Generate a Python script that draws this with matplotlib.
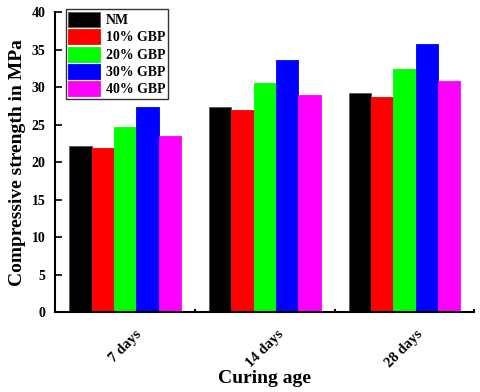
import numpy as np
import matplotlib.pyplot as plt
import matplotlib.transforms as mtransforms
from matplotlib.ticker import FixedLocator

# Compressive strength (MPa)
ages = ['7 days', '14 days', '28 days']
series = ['NM', '10% GBP', '20% GBP', '30% GBP', '40% GBP']
nm = [22.2, 27.4, 29.2]
gbp10 = [21.9, 26.9, 28.7]
gbp20 = [24.7, 30.5, 32.4]
gbp30 = [27.3, 33.6, 35.8]
gbp40 = [23.5, 29.0, 30.8]
colors = ['#000000', '#ff0000', '#00ff00', '#0000ff', '#ff00ff']

plt.rcParams['font.family'] = ['Liberation Serif', 'DejaVu Serif']
plt.rcParams['font.weight'] = 'bold'

fig = plt.figure(figsize=(4.8, 3.92), dpi=100)
ax = fig.add_axes([0.115, 0.203, 0.873, 0.766])

centers = np.arange(len(ages)) + 0.5
width = 0.16
for i, (name, vals) in enumerate(zip(series, [nm, gbp10, gbp20, gbp30, gbp40])):
    ax.bar(centers + (i - 2) * width, vals, width, color=colors[i],
           edgecolor='#555555' if i == 0 else colors[i], linewidth=0.6,
           label=name)

ax.set_xlim(0, 3)
ax.set_ylim(0, 40)
ax.set_yticks(range(0, 41, 5))
ax.set_yticklabels([str(v) for v in range(0, 41, 5)], fontsize=10, fontweight='bold')
ax.xaxis.set_major_locator(FixedLocator([1, 2, 3]))
ax.set_xticklabels([])
ax.xaxis.set_minor_locator(FixedLocator(centers))
ax.set_xticklabels(ages, minor=True, rotation=45, fontsize=10.5,
                   fontweight='bold', ha='center', va='top')
shift = mtransforms.ScaledTranslation(-6 / 100, 0, fig.dpi_scale_trans)
for lab in ax.xaxis.get_minorticklabels():
    lab.set_transform(lab.get_transform() + shift)
ax.tick_params(axis='x', which='major', direction='in', length=2, width=1.5)
ax.tick_params(axis='x', which='minor', length=0, pad=11)
ax.tick_params(axis='y', direction='in', length=5, width=1.2, pad=7)

for s in ['top', 'right']:
    ax.spines[s].set_visible(False)
for s in ['left', 'bottom']:
    ax.spines[s].set_linewidth(1.5)

ax.set_ylabel('Compressive strength in MPa', fontsize=14, fontweight='bold', labelpad=4)
ax.set_xlabel('Curing age', fontsize=14, fontweight='bold', labelpad=0)

leg = ax.legend(loc='upper left', bbox_to_anchor=(0.025, 1.01), fontsize=10,
                frameon=True, fancybox=False, edgecolor='black',
                handlelength=2.3, handleheight=1.3, labelspacing=0.15,
                borderpad=0.2, handletextpad=0.4, borderaxespad=0)
leg.get_frame().set_linewidth(1.0)

fig.savefig('out.png', dpi=100)
